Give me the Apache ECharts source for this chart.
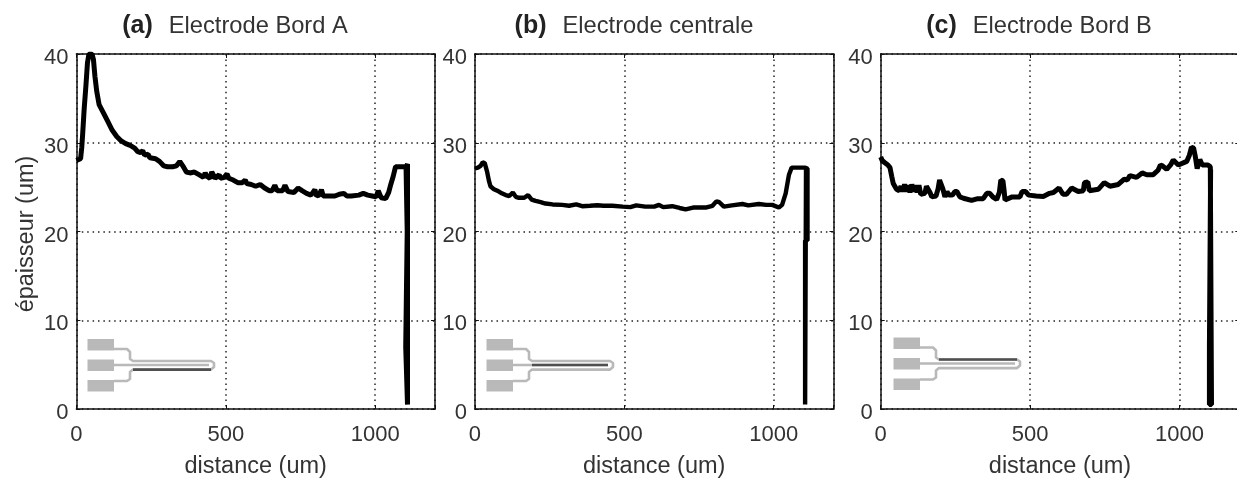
<!DOCTYPE html>
<html><head><meta charset="utf-8">
<style>html,body{margin:0;padding:0;background:#fff}#c{width:1237px;height:479px}</style>
<script src="https://cdn.jsdelivr.net/npm/echarts@6/dist/echarts.min.js"></script>
</head><body><div id="c"></div>
<script>
const xTicks=[0,500,1000];
const yTicks=[0,10,20,30,40];
const xLabel='distance (um)';
const yLabel='épaisseur (um)';
const panelTags=['(a)','(b)','(c)'];
const panelNames=['Electrode Bord A','Electrode centrale','Electrode Bord B'];
const seriesA=[[0,28],[5,27.9],[14,28.2],[18,29.5],[21,31],[26,33.8],[32,36.5],[37,39],[42,40],[52,40],[57,39.4],[62,37.5],[68,35.8],[76,34.3],[90,33.4],[105,32.4],[120,31.4],[135,30.7],[150,30.2],[165,29.9],[180,29.7],[195,29.4],[205,29.0],[215,28.9],[222,29.1],[228,28.6],[240,28.7],[246,28.3],[252,28.5],[265,28.2],[278,27.9],[292,27.4],[305,27.3],[322,27.3],[335,27.4],[346,27.9],[356,27.4],[368,26.7],[380,26.6],[395,26.7],[410,26.4],[425,26.1],[431,26.6],[437,26.2],[447,26.0],[453,26.7],[458,26.9],[464,26.0],[468,25.9],[478,26.4],[482,26.0],[495,26.1],[504,26.5],[510,26.0],[525,25.8],[540,25.5],[555,25.5],[565,25.8],[570,25.4],[585,25.3],[600,25.1],[615,25.3],[630,24.9],[645,24.6],[655,24.6],[664,25.2],[668,25.3],[672,24.6],[676,24.5],[690,24.6],[698,25.2],[703,25.2],[708,24.5],[728,24.4],[742,24.9],[755,24.6],[770,24.3],[785,24.1],[798,24.7],[804,24.0],[812,24.1],[820,24.7],[826,24.0],[845,24.0],[865,24.0],[880,24.2],[895,24.3],[905,24.0],[920,24.0],[945,24.1],[960,24.3],[975,24.1],[990,24.0],[1003,23.9],[1010,24.6],[1014,24.7],[1020,23.8],[1035,23.7],[1045,24.4],[1052,25.3],[1060,26.2],[1068,27.3],[1080,27.3],[1095,27.3],[1104,27.3],[1108,27.6],[1108,0.5],[1102,0.5],[1102,7],[1107,7],[1107,20],[1103,20],[1103,27.4]];
const seriesB=[[0,27.1],[10,27.2],[19,27.4],[26,27.8],[33,27.7],[41,26.7],[47,25.7],[52,25.1],[62,24.8],[75,24.6],[90,24.3],[103,24.1],[115,24.0],[127,24.4],[137,23.9],[147,23.8],[165,23.8],[178,24.1],[190,23.6],[203,23.45],[220,23.3],[236,23.15],[260,23.05],[292,23.0],[315,22.9],[339,23.05],[359,22.85],[385,22.9],[410,22.95],[430,22.9],[460,22.9],[495,22.8],[520,22.75],[540,22.95],[570,22.8],[600,22.8],[616,23.0],[630,22.75],[660,22.85],[685,22.65],[705,22.5],[730,22.7],[772,22.7],[795,22.9],[808,23.4],[818,23.3],[833,22.8],[860,22.95],[895,23.1],[915,22.95],[950,23.1],[975,23.0],[995,23.0],[1017,22.7],[1028,23],[1040,24.3],[1051,26.4],[1060,27.2],[1080,27.2],[1104,27.2],[1113,27.1],[1113,19],[1105,19],[1105,0.5],[1108,0.5],[1108,27]];
const seriesC=[[0,28.4],[5,28],[14,27.75],[24,27.5],[31,27.2],[37,26.2],[42,25.4],[53,24.75],[62,24.6],[68,25.1],[74,24.5],[80,25.3],[86,24.5],[92,25.2],[98,24.4],[104,25.3],[110,24.5],[116,25.2],[122,24.4],[128,25.2],[134,24.2],[148,24.3],[153,25.1],[159,25.2],[165,24.4],[171,23.9],[185,24],[192,24.8],[197,25.8],[203,25.8],[208,24.8],[215,23.9],[222,24.5],[228,24.1],[240,24.1],[248,24.5],[255,24.5],[265,23.9],[277,23.75],[304,23.5],[325,23.7],[343,23.7],[355,24.3],[365,24.3],[375,23.9],[388,23.6],[397,24.4],[402,25.8],[409,25.7],[413,24.6],[416,23.55],[440,23.9],[466,23.9],[473,24.5],[485,24.5],[495,24.1],[520,24],[544,23.95],[565,24.3],[578,24.4],[597,24.9],[603,24.8],[610,24.2],[622,24.2],[639,24.9],[661,24.5],[678,24.6],[682,25.5],[693,25.6],[698,24.6],[728,24.75],[748,25.5],[754,25.5],[767,25.1],[795,25.3],[815,25.9],[825,25.8],[834,26.3],[856,26.1],[875,26.6],[890,26.4],[912,26.4],[928,26.9],[936,27.5],[943,27.4],[957,27],[970,27.5],[979,28.05],[985,27.9],[996,27.5],[1024,27.9],[1033,28.6],[1040,29.5],[1047,29.4],[1052,28.6],[1059,27.1],[1068,28.1],[1076,27.5],[1095,27.5],[1103,27.3],[1107,27.2],[1107,0.5],[1100,0.5],[1100,7],[1104,7],[1104,27]];
const allSeries=[seriesA,seriesB,seriesC];

const lefts=[76.4,474.9,880.7], W=358.6, TOP=54, H=355;
const font='"Liberation Sans",Arial,sans-serif', ink='#333';
const grids=lefts.map(l=>({left:l,top:TOP,width:W,height:H,show:false,containLabel:false,outerBoundsMode:'none'}));
const xAxis=[],yAxis=[],series=[];
const dotted={show:true,lineStyle:{color:'#222',type:[1.5,3.9],width:1.5}};
lefts.forEach((l,i)=>{
  const base={min:0,axisLine:{show:true,onZero:false,lineStyle:{color:'#111',width:1.5}},axisTick:{show:true,inside:true,length:4,lineStyle:{color:'#111',width:1}}};
  xAxis.push({...base,gridIndex:i,type:'value',max:1200,interval:500,position:'bottom',
    name:xLabel,nameLocation:'middle',nameGap:46,nameTextStyle:{fontFamily:font,fontSize:23.5,color:ink},
    axisLabel:{fontFamily:font,fontSize:22,color:ink,margin:15,hideOverlap:false,formatter:v=>xTicks.includes(v)?String(v):''},
    splitLine:dotted});
  xAxis.push({...base,gridIndex:i,type:'value',max:1200,interval:500,position:'top',axisLabel:{show:false},splitLine:{show:false}});
  yAxis.push({...base,gridIndex:i,type:'value',max:40,interval:10,position:'left',
    name:i===0?yLabel:'',nameLocation:'middle',nameGap:38,nameTextStyle:{fontFamily:font,fontSize:23.5,color:ink,padding:[0,5,0,0]},
    axisLabel:{color:ink,margin:8,formatter:v=>yTicks.includes(v)?'{v|'+v+'}':'',
      rich:{v:{fontFamily:font,fontSize:22,color:ink,padding:[8,0,0,0]}}},
    splitLine:dotted});
  yAxis.push({...base,gridIndex:i,type:'value',max:40,interval:10,position:'right',axisLabel:{show:false},splitLine:{show:false}});
  series.push({type:'line',xAxisIndex:i*2,yAxisIndex:i*2,data:allSeries[i],showSymbol:false,symbol:'none',clip:true,z:5,
    lineStyle:{color:'#000',width:i===1?4.4:5,join:'bevel',cap:'butt'}});
});

// inset schematic of the electrodes (decoration, placed per panel)
function inset(dx,dy,active){
  const gray='#b9b9b9', dark='#505050', els=[];
  [[339,11.5],[359.5,11.5],[380,11.5]].forEach(r=>els.push({type:'rect',shape:{x:87.5+dx,y:r[0]+dy,width:26.5,height:r[1]},style:{fill:gray},z:4}));
  const line=(pts,c,w)=>els.push({type:'polyline',shape:{points:pts.map(p=>[p[0]+dx,p[1]+dy])},style:{stroke:c,lineWidth:w,fill:null,lineJoin:'round'},z:4});
  line([[114,349],[127,349],[130,352],[130,359],[133,361],[211,361],[214,363],[214,367],[211,369.6],[133,369.6],[130,372],[130,379],[127,381],[114,381]],gray,2.6);
  line([[114,365],[209,365]],gray,2.6);
  const ys={top:361,mid:365,bot:369.6};
  line([[133,ys[active]],[active==='mid'?209:211,ys[active]]],dark,2.6);
  return els;
}
const graphic=[...inset(0,0,'bot'),...inset(399,0,'mid'),...inset(806,-1.5,'top')];

const titleX=[230,629,1034];
const title=lefts.map((l,i)=>({
  left:titleX[i],top:9,textAlign:'center',
  text:'{t|'+panelTags[i]+'}  {n|'+panelNames[i]+'}',
  textStyle:{fontWeight:'normal',rich:{t:{fontFamily:font,fontWeight:'bold',fontSize:25,color:'#222',padding:[0,6,0,0]},n:{fontFamily:font,fontWeight:'normal',fontSize:23.7,color:ink}}}
}));

const chart=echarts.init(document.getElementById('c'),null,{renderer:'canvas'});
chart.setOption({animation:false,backgroundColor:'#fff',title,grid:grids,xAxis,yAxis,series,graphic});
</script></body></html>
